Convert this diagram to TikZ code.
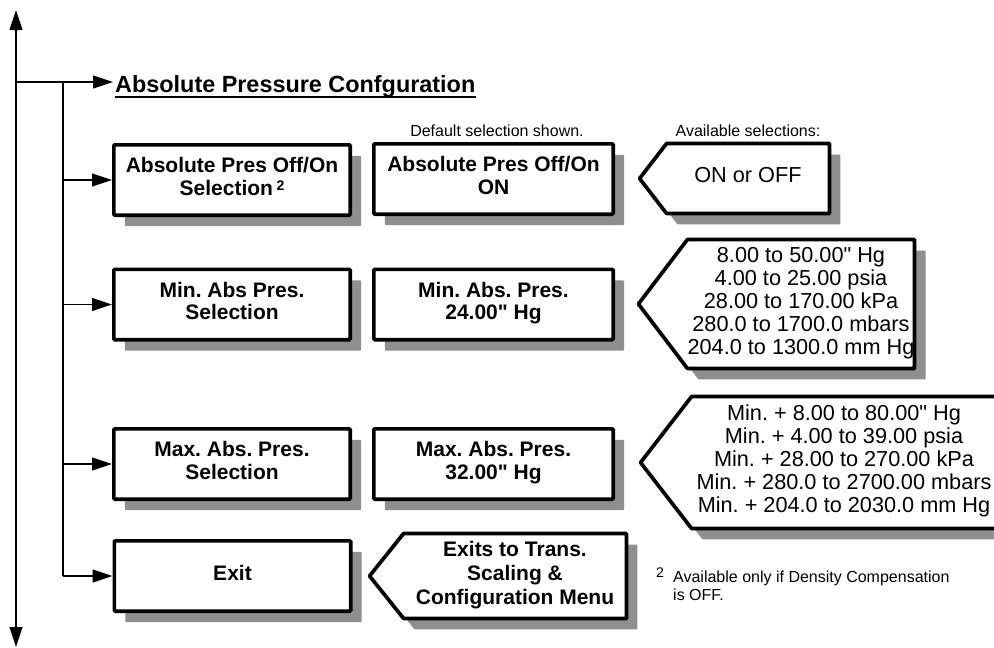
\documentclass[tikz,border=0pt]{standalone}
\usepackage{fontspec}
\setmainfont{Liberation Sans}[Ligatures=TeXOff]
\usetikzlibrary{arrows.meta,shadows,backgrounds}
\definecolor{shadowgray}{gray}{0.56}
\frenchspacing
\newcommand\pentpath[2]{(#1.north west) -- (#1.north east) -- (#1.south east) -- (#1.south west) -- ([xshift=-#2pt]#1.west) -- cycle}
\tikzset{
  conn/.style={line width=1.2pt},
  arr/.style={conn,-{Triangle[length=20pt,width=13pt]}},
  menubox/.style={draw, line width=3.7pt, fill=white, rounded corners=1pt, inner sep=0pt,
    align=center, font=\fontsize{21}{22.5}\selectfont\bfseries, text depth=7pt,
    minimum width=236.3pt, minimum height=70.3pt,
    drop shadow={shadow xshift=11pt, shadow yshift=-11pt, fill=shadowgray, opacity=1}},
  valbox/.style={menubox, minimum width=239.3pt},
  penttext/.style={inner sep=0pt, align=center, text depth=7pt},
  plaintxt/.style={font=\fontsize{21.7}{23}\selectfont},
  boldtxt/.style={font=\fontsize{21}{24}\selectfont\bfseries},
  pentline/.style={draw, line width=3.7pt, fill=white, line join=round},
  pentshadow/.style={fill=shadowgray, transform canvas={xshift=11pt, yshift=-11pt}},
  smalltxt/.style={inner sep=0pt, font=\fontsize{16}{18}\selectfont},
}
\begin{document}
\begin{tikzpicture}[x=1pt, y=-1pt]
\useasboundingbox (0,0) rectangle (994,648);
\clip (0,0) rectangle (994,648);

% title
\node[anchor=base west, inner sep=0pt, font=\fontsize{23.4}{26}\selectfont\bfseries] (title) at (115,92) {Absolute Pressure Confguration};
\draw[line width=2.3pt] ([yshift=-5pt]title.base west) -- ([yshift=-5pt]title.base east);

% captions
\node[smalltxt, anchor=base] (defcap) at (497,136) {Default selection shown.};
\node[smalltxt, anchor=base] (avcap) at (748,136) {Available selections:};

% menu boxes, column 1
\node[menubox] (b1) at (232,180) {Absolute Pres Off/On\\Selection\,\raisebox{5pt}{\fontsize{14}{14}\selectfont 2}};
\node[menubox] (b3) at (232,304.5) {Min. Abs Pres.\\Selection};
\node[menubox] (b5) at (232,464) {Max. Abs. Pres.\\Selection};
\node[menubox] (ex) at (232.5,576) {Exit};

% value boxes, column 2
\node[valbox] (b2) at (493.5,179) {Absolute Pres Off/On\\ON};
\node[valbox] (b4) at (493.5,304.5) {Min. Abs. Pres.\\24.00" Hg};
\node[valbox] (b6) at (493.5,464) {Max. Abs. Pres.\\32.00" Hg};

% selection pentagons (text nodes)
\node[penttext, plaintxt, minimum width=162.5pt, minimum height=69.5pt] (p1) at (748,178.5) {ON or OFF};
\node[penttext, plaintxt, minimum width=224.5pt, minimum height=128.5pt] (p2) at (801,304)
  {8.00 to 50.00" Hg\\4.00 to 25.00 psia\\28.00 to 170.00 kPa\\280.0 to 1700.0 mbars\\204.0 to 1300.0 mm Hg};
\node[penttext, plaintxt, minimum width=304.5pt, minimum height=131.5pt] (p3) at (844,462.5)
  {Min. + 8.00 to 80.00" Hg\\Min. + 4.00 to 39.00 psia\\Min. + 28.00 to 270.00 kPa\\Min. + 280.0 to 2700.00 mbars\\Min. + 204.0 to 2030.0 mm Hg};
\node[penttext, boldtxt, minimum width=222.5pt, minimum height=84.5pt] (p4) at (515,576)
  {Exits to Trans.\\Scaling \&\\Configuration Menu};

\begin{scope}[on background layer]
  \clip (0,0) rectangle (994,648);
  \fill[pentshadow] \pentpath{p1}{27};
  \fill[pentshadow] \pentpath{p2}{49};
  \fill[pentshadow] \pentpath{p3}{51};
  \fill[pentshadow] \pentpath{p4}{34};
  \path[pentline] \pentpath{p1}{27};
  \path[pentline] \pentpath{p2}{49};
  \path[pentline] \pentpath{p3}{51};
  \path[pentline] \pentpath{p4}{34};
\end{scope}

% footnote
\node[inner sep=0pt, anchor=base west, font=\fontsize{14}{14}\selectfont] (fnmark) at (656,577) {2};
\node[smalltxt, anchor=base west] (fn1) at (673,582) {Available only if Density Compensation};
\node[smalltxt, anchor=base west] (fn2) at (673,600) {is OFF.};

% connectors
\coordinate (top) at (16,82);
\coordinate (upend) at (16,10);
\coordinate (downend) at (16,647);
\coordinate (spine) at (63,82);
\draw[arr] (top) -- (upend);
\draw[arr] (top) -- (downend);
\draw[arr, shorten >=2pt] (top) -- (top -| title.base west);
\draw[conn] (spine) -- (spine |- ex.west);
\draw[arr] (spine |- b1.west) -- (b1.west);
\draw[arr] (spine |- b3.west) -- (b3.west);
\draw[arr] (spine |- b5.west) -- (b5.west);
\draw[arr] (spine |- ex.west) -- (ex.west);
\end{tikzpicture}
\end{document}
